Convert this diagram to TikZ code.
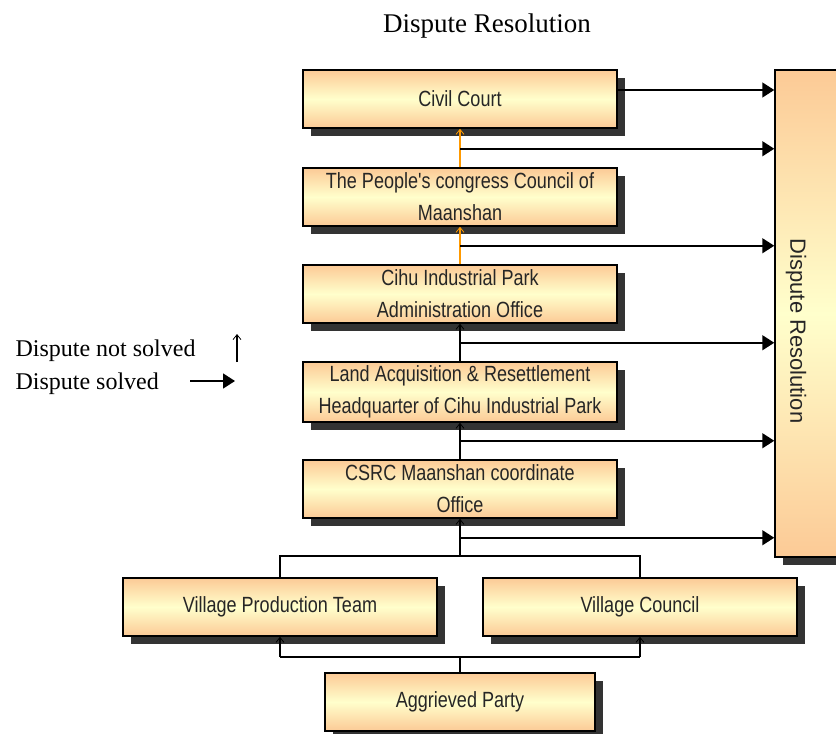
\documentclass[tikz,border=0pt]{standalone}
\usepackage{fontspec}
\setmainfont{Liberation Serif}
\newfontfamily\boxfont[FakeStretch=0.82]{Liberation Sans}
\newfontfamily\sidefont{Liberation Sans}
\usetikzlibrary{arrows.meta,positioning,calc,shadows}
\definecolor{peach}{RGB}{252,202,150}
\definecolor{paleyellow}{RGB}{255,255,204}
\definecolor{shadowgray}{RGB}{51,51,51}
\definecolor{uporange}{RGB}{255,153,0}
\tikzset{
  box/.style={draw=black, line width=1.5pt, top color=peach, bottom color=peach,
    middle color=paleyellow, minimum width=314pt, minimum height=58pt, inner sep=0pt,
    align=center, text=black!85, font=\boxfont\fontsize{22}{32}\selectfont,
    drop shadow={shadow xshift=8pt, shadow yshift=-8pt, fill=shadowgray, opacity=1}},
  legend/.style={anchor=base west, font=\fontsize{24}{28}\selectfont},
  solved/.style={line width=1.6pt, -{Triangle[length=12pt,width=15pt]}},
  notsolved/.style={line width=1.6pt, -{Straight Barb[length=5pt,width=8pt,line width=0.8pt]}},
  joint/.style={line width=1.6pt}
}

\begin{document}
\begin{tikzpicture}[x=1pt,y=-1pt]
    \useasboundingbox (0,0) rectangle (836,734);
    \node[anchor=base, font=\fontsize{27}{32}\selectfont] (title) at (487,32) {Dispute Resolution};

    \node[box] (civil) at (460,99) {Civil Court};
    \node[box] (people) at (460,197) {The People's congress Council of\\Maanshan};
    \node[box] (cihu) at (460,294) {Cihu Industrial Park\\Administration Office};
    \node[box, minimum height=60pt] (land) at (460,392) {Land Acquisition \& Resettlement\\Headquarter of Cihu Industrial Park};
    \node[box] (csrc) at (460,489) {CSRC Maanshan coordinate\\Office};
    \node[box] (vpt) at (280,607) {Village Production Team};
    \node[box] (vc) at (640,607) {Village Council};
    \node[box, minimum width=270pt] (aggr) at (460,702) {Aggrieved Party};
    \node[box, minimum width=80pt, minimum height=487pt] (dr) at (815,313.5) {};
    \node[rotate=-90, text=black!85, font=\sidefont\fontsize{22}{32}\selectfont] (drtext) at (796,331) {Dispute Resolution};

    \node[legend] (ns) at (12,356) {Dispute not solved};
    \node[legend] (s) at (12,389) {Dispute solved};
    \coordinate (nsa) at (237,362);
    \coordinate (nsb) at (237,334);
    \coordinate (sa) at (190,381);
    \coordinate (sb) at (235,381);
    \draw[line width=1.2pt, -{Straight Barb[length=5pt,width=8pt,line width=0.8pt]}] (nsa) -- (nsb);
    \draw[solved] (sa) -- (sb);

    \coordinate (c0) at ($(civil.east)+(0,-9)$);
    \draw[solved] (c0) -- (c0 -| dr.west);

    \draw[notsolved, draw=uporange] (people.north) -- (civil.south);
    \coordinate (j1) at ($(civil.south)+(0,20)$);
    \draw[solved] (j1) -- (j1 -| dr.west);

    \draw[notsolved, draw=uporange] (cihu.north) -- (people.south);
    \coordinate (j2) at ($(people.south)+(0,19)$);
    \draw[solved] (j2) -- (j2 -| dr.west);

    \draw[notsolved] (land.north) -- (cihu.south);
    \coordinate (j3) at ($(cihu.south)+(0,19)$);
    \draw[solved] (j3) -- (j3 -| dr.west);

    \draw[notsolved] (csrc.north) -- (land.south);
    \coordinate (j4) at ($(land.south)+(0,18)$);
    \draw[solved] (j4) -- (j4 -| dr.west);

    \coordinate (vtop) at ($(vpt.north)+(0,-21)$);
    \coordinate (vmid) at (vtop -| csrc.south);
    \draw[joint] (vpt.north) -- (vtop) -| (vc.north);
    \draw[notsolved] (vmid) -- (csrc.south);
    \coordinate (j5) at ($(csrc.south)+(0,19)$);
    \draw[solved] (j5) -- (j5 -| dr.west);

    \coordinate (vbot) at ($(vpt.south)+(0,20)$);
    \draw[joint] (aggr.north) -- (aggr.north |- vbot);
    \draw[joint] (vbot) -- (vbot -| vc.south);
    \draw[notsolved] (vbot) -- (vpt.south);
    \draw[notsolved] (vbot -| vc.south) -- (vc.south);
\end{tikzpicture}
\end{document}
